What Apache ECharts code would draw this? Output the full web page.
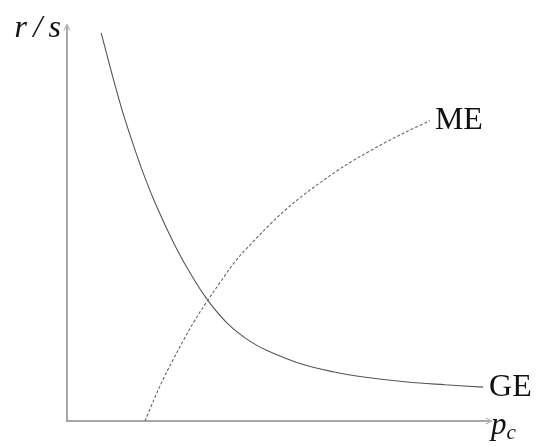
<!DOCTYPE html>
<html>
<head>
<meta charset="utf-8">
<script src="https://cdn.jsdelivr.net/npm/echarts@6/dist/echarts.min.js"></script>
<style>
  html, body { margin: 0; padding: 0; background: #fff; }
  #chart { width: 538px; height: 447px; }
</style>
</head>
<body>
<div id="chart"></div>
<script>
// Goods-market equilibrium curve (GE): falls steeply, then flattens out
const geX = [0.81, 1.07, 1.30, 1.54, 1.80, 2.13, 2.56, 2.96, 3.36, 3.82, 4.34, 4.74, 5.52, 6.30, 6.94, 8.06, 8.96, 9.86];
const geY = [9.85, 8.79, 7.91, 7.11, 6.31, 5.43, 4.45, 3.68, 3.03, 2.46, 2.02, 1.79, 1.46, 1.25, 1.13, 0.99, 0.92, 0.86];

// Money-market equilibrium curve (ME): rises from the horizontal axis, concave
const meX = [1.85, 2.06, 2.27, 2.51, 2.75, 3.03, 3.32, 3.63, 4.00, 4.41, 4.81, 5.21, 5.62, 6.00, 6.40, 6.78, 7.19, 7.58, 8.08, 8.60];
const meY = [0.00, 0.54, 1.04, 1.55, 2.03, 2.56, 3.04, 3.52, 4.07, 4.55, 4.99, 5.39, 5.75, 6.05, 6.35, 6.61, 6.86, 7.09, 7.36, 7.62];

const curveNames = ['GE', 'ME'];
const axisNames = { x: 'p', xSub: 'c', y: 'r\u2009/\u2009s' };

const pairs = (xs, ys) => xs.map((x, i) => [x, ys[i]]);

const serif = '"Liberation Serif", "DejaVu Serif", serif';
const axisColor = '#8a8a8a';
// thin open arrow head, drawn pointing up and rotated along the axis
const arrowHead = 'path://M0,10 L5,0 L10,10 L9,10 L5,2.2 L1,10 Z';

const axisLine = {
  show: true,
  lineStyle: { color: axisColor, width: 1.5 },
  symbol: ['none', arrowHead],
  symbolSize: [7, 7]
};

const chart = echarts.init(document.getElementById('chart'), null, { renderer: 'canvas' });
chart.setOption({
  animation: false,
  backgroundColor: '#fff',
  grid: { left: 67, right: 49, top: 27, bottom: 26, containLabel: false },
  xAxis: {
    type: 'value', min: 0, max: 10,
    axisLine: axisLine,
    axisTick: { show: false }, axisLabel: { show: false }, splitLine: { show: false },
    name: '{p|' + axisNames.x + '}{c|' + axisNames.xSub + '}',
    nameLocation: 'end', nameGap: 2,
    nameTextStyle: {
      rich: {
        p: { fontFamily: serif, fontStyle: 'italic', fontSize: 31, color: '#111', padding: [10, 0, 0, 0] },
        c: { fontFamily: serif, fontStyle: 'italic', fontSize: 21, color: '#111', padding: [24, 0, 0, 0] }
      }
    }
  },
  yAxis: {
    type: 'value', min: 0, max: 10,
    axisLine: axisLine,
    axisTick: { show: false }, axisLabel: { show: false }, splitLine: { show: false },
    name: axisNames.y,
    nameLocation: 'end', nameGap: -2,
    nameTextStyle: {
      fontFamily: serif, fontStyle: 'italic', fontSize: 32, color: '#111',
      align: 'right', verticalAlign: 'middle', padding: [0, 6, 0, 0]
    }
  },
  series: [
    {
      name: curveNames[0], type: 'line', smooth: 0.35, symbol: 'none',
      data: pairs(geX, geY),
      lineStyle: { color: '#555', width: 1.1 },
      endLabel: {
        show: true, formatter: curveNames[0], distance: 6,
        fontFamily: serif, fontSize: 32, color: '#111'
      }
    },
    {
      name: curveNames[1], type: 'line', smooth: 0.35, symbol: 'none',
      data: pairs(meX, meY),
      lineStyle: { color: '#666', width: 1.1, type: [3, 2] },
      endLabel: {
        show: true, formatter: curveNames[1], distance: 5,
        fontFamily: serif, fontSize: 32, color: '#111'
      }
    }
  ]
});
</script>
</body>
</html>
